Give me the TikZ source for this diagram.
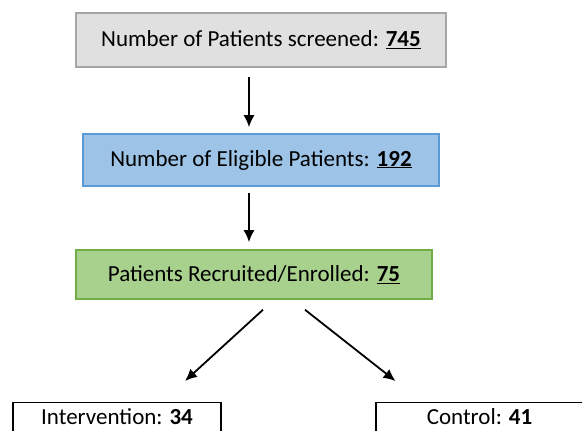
\documentclass[tikz,border=0pt]{standalone}
\usepackage{fontspec}
\setmainfont{Carlito}
\usepackage{tikz}
\usetikzlibrary{arrows.meta,positioning,calc}

\definecolor{screenfill}{HTML}{E0E0E0}
\definecolor{screenline}{HTML}{A6A6A6}
\definecolor{eligfill}{HTML}{9DC3E6}
\definecolor{eligline}{HTML}{5B9BD5}
\definecolor{enrolfill}{HTML}{A9D18E}
\definecolor{enrolline}{HTML}{70AD47}

\begin{document}
\begin{tikzpicture}[x=1pt, y=1pt,
            every node/.style={draw, line width=1.5pt, rectangle, inner sep=2pt,
                font=\fontsize{23}{27}\selectfont},
            flow/.style={-{Latex[length=12pt,width=11pt]}, draw, line width=1.8pt}]
        \clip (0,0) rectangle (582,431);
        \useasboundingbox (0,0) rectangle (582,431);
        \node[fill=screenfill, draw=screenline, minimum width=370pt, minimum height=54pt]
            (screened) at (261,391) {Number of Patients screened: \underline{\textbf{745}}};
        \node[fill=eligfill, draw=eligline, minimum width=356pt, minimum height=52pt]
            (eligible) at (261,271) {Number of Eligible Patients: \underline{\textbf{192}}};
        \node[fill=enrolfill, draw=enrolline, minimum width=356pt, minimum height=49pt]
            (enrolled) at (254,156.5) {Patients Recruited/Enrolled: \underline{\textbf{75}}};
        \node[anchor=north, minimum width=208pt, inner ysep=6pt, text depth=16pt, line width=1.5pt]
            (intervention) at (117,29) {Intervention: \textbf{34}};
        \node[anchor=north, minimum width=207pt, inner ysep=6pt, text depth=16pt, line width=1.5pt]
            (control) at (479.5,29) {Control: \textbf{41}};
        \draw[flow] ([xshift=-12pt,yshift=-9pt]screened.south) -- ([xshift=-12pt,yshift=6pt]eligible.north);
        \draw[flow] ([xshift=-12pt,yshift=-6pt]eligible.south) -- ([xshift=-5pt,yshift=7pt]enrolled.north);
        \draw[flow] ([xshift=9pt,yshift=-10pt]enrolled.south) -- ([xshift=68pt,yshift=21pt]intervention.north);
        \draw[flow] ([xshift=51pt,yshift=-10pt]enrolled.south) -- ([xshift=-84pt,yshift=21pt]control.north);
\end{tikzpicture}
\end{document}
